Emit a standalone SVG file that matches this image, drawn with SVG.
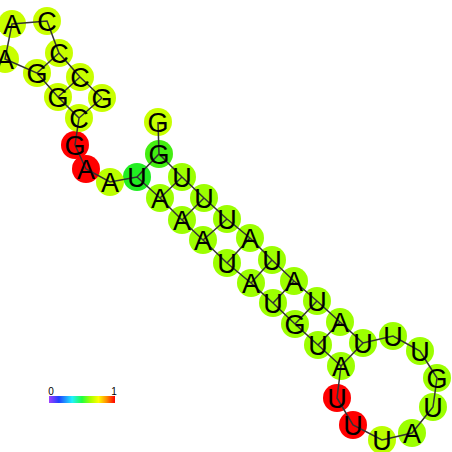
<svg xmlns="http://www.w3.org/2000/svg" width="452" height="452" viewBox="0 0 452 452">
<defs>
<style>
.n circle{stroke:none}
.n text{font-family:"Liberation Sans",Arial,sans-serif;font-size:27px;text-anchor:middle;fill:#000}
.y{fill:#c8ff00}
.s{fill:#9cff00}
.r{fill:#ff0000}
.g1{fill:#44ee11}
.g2{fill:#22ee22}
.y2{fill:#bbff00}
#links line,#links polyline{stroke:#333;stroke-width:1.5;fill:none}
.lbl{font-family:"Liberation Sans",Arial,sans-serif;font-size:10px;fill:#000;text-anchor:middle}
</style>
<linearGradient id="cb" x1="0" y1="0" x2="1" y2="0">
<stop offset="0" stop-color="#a040ff"/>
<stop offset="0.15" stop-color="#2040ff"/>
<stop offset="0.35" stop-color="#20f0ff"/>
<stop offset="0.5" stop-color="#20ff40"/>
<stop offset="0.62" stop-color="#a0ff00"/>
<stop offset="0.75" stop-color="#ffff00"/>
<stop offset="0.87" stop-color="#ff9000"/>
<stop offset="1" stop-color="#ff0000"/>
</linearGradient>
</defs>
<rect width="452" height="452" fill="#fff"/>
<g id="nodes">
<g id="n1" class="n"><circle class="y" cx="158" cy="122" r="14"/></g>
<g id="n2" class="n"><circle class="g1" cx="159" cy="154" r="14"/></g>
<g id="n3" class="n"><circle class="s" cx="182" cy="177" r="14"/></g>
<g id="n4" class="n"><circle class="s" cx="204" cy="198" r="14"/></g>
<g id="n5" class="n"><circle class="s" cx="227" cy="219" r="14"/></g>
<g id="n6" class="n"><circle class="s" cx="250" cy="238" r="14"/></g>
<g id="n7" class="n"><circle class="s" cx="272" cy="260" r="14"/></g>
<g id="n8" class="n"><circle class="s" cx="294" cy="281" r="14"/></g>
<g id="n9" class="n"><circle class="s" cx="317" cy="301" r="14"/></g>
<g id="n10" class="n"><circle class="s" cx="340" cy="322" r="14"/></g>
<g id="n11" class="n"><circle class="s" cx="363" cy="343" r="14"/></g>
<g id="n12" class="n"><circle class="s" cx="393" cy="336" r="14"/></g>
<g id="n13" class="n"><circle class="s" cx="420" cy="351" r="14"/></g>
<g id="n14" class="n"><circle class="s" cx="437" cy="378" r="14"/></g>
<g id="n15" class="n"><circle class="s" cx="433" cy="407" r="14"/></g>
<g id="n16" class="n"><circle class="s" cx="412" cy="433" r="14"/></g>
<g id="n17" class="n"><circle class="y2" cx="382" cy="440" r="14"/></g>
<g id="n18" class="n"><circle class="r" cx="353" cy="425" r="14"/></g>
<g id="n19" class="n"><circle class="r" cx="337" cy="398" r="14"/></g>
<g id="n20" class="n"><circle class="s" cx="341" cy="366" r="14"/></g>
<g id="n21" class="n"><circle class="s" cx="318" cy="345" r="14"/></g>
<g id="n22" class="n"><circle class="s" cx="295" cy="324" r="14"/></g>
<g id="n23" class="n"><circle class="s" cx="273" cy="303" r="14"/></g>
<g id="n24" class="n"><circle class="s" cx="251" cy="283" r="14"/></g>
<g id="n25" class="n"><circle class="s" cx="227" cy="263" r="14"/></g>
<g id="n26" class="n"><circle class="s" cx="203" cy="240" r="14"/></g>
<g id="n27" class="n"><circle class="s" cx="182" cy="220" r="14"/></g>
<g id="n28" class="n"><circle class="s" cx="160" cy="198" r="14"/></g>
<g id="n29" class="n"><circle class="g2" cx="137" cy="177" r="14"/></g>
<g id="n30" class="n"><circle class="y2" cx="110" cy="182" r="14"/></g>
<g id="n31" class="n"><circle class="r" cx="86" cy="169" r="14"/></g>
<g id="n32" class="n"><circle class="r" cx="75" cy="145" r="14"/></g>
<g id="n33" class="n"><circle class="y" cx="79" cy="118" r="14"/></g>
<g id="n34" class="n"><circle class="y" cx="58" cy="97" r="14"/></g>
<g id="n35" class="n"><circle class="y" cx="37" cy="73" r="14"/></g>
<g id="n36" class="n"><circle class="y" cx="5" cy="59" r="14"/></g>
<g id="n37" class="n"><circle class="y" cx="12" cy="24" r="14"/></g>
<g id="n38" class="n"><circle class="y" cx="47" cy="21" r="14"/></g>
<g id="n39" class="n"><circle class="y" cx="59" cy="53" r="14"/></g>
<g id="n40" class="n"><circle class="y" cx="80" cy="77" r="14"/></g>
<g id="n41" class="n"><circle class="y" cx="102" cy="98" r="14"/></g>
</g>
<g id="links">
<polyline points="158,122 159,154 182,177 204,198 227,219 250,238 272,260 294,281 317,301 340,322 363,343 393,336 420,351 437,378 433,407 412,433 382,440 353,425 337,398 341,366 318,345 295,324 273,303 251,283 227,263 203,240 182,220 160,198 137,177 110,182 86,169 75,145 79,118 58,97 37,73 5,59 12,24 47,21 59,53 80,77 102,98"/>
<line x1="159" y1="154" x2="137" y2="177"/>
<line x1="182" y1="177" x2="160" y2="198"/>
<line x1="204" y1="198" x2="182" y2="220"/>
<line x1="227" y1="219" x2="203" y2="240"/>
<line x1="250" y1="238" x2="227" y2="263"/>
<line x1="272" y1="260" x2="251" y2="283"/>
<line x1="294" y1="281" x2="273" y2="303"/>
<line x1="317" y1="301" x2="295" y2="324"/>
<line x1="340" y1="322" x2="318" y2="345"/>
<line x1="363" y1="343" x2="341" y2="366"/>
<line x1="79" y1="118" x2="102" y2="98"/>
<line x1="58" y1="97" x2="80" y2="77"/>
<line x1="37" y1="73" x2="59" y2="53"/>
</g>
<g id="labels" class="n">
<text x="158" y="131.5">G</text>
<text x="159" y="163.5">G</text>
<text x="182" y="186.5">U</text>
<text x="204" y="207.5">U</text>
<text x="227" y="228.5">U</text>
<text x="250" y="247.5">A</text>
<text x="272" y="269.5">U</text>
<text x="294" y="290.5">A</text>
<text x="317" y="310.5">U</text>
<text x="340" y="331.5">A</text>
<text x="363" y="352.5">U</text>
<text x="393" y="345.5">U</text>
<text x="420" y="360.5">U</text>
<text x="437" y="387.5">G</text>
<text x="433" y="416.5">U</text>
<text x="412" y="442.5">A</text>
<text x="382" y="449.5">U</text>
<text x="353" y="434.5">U</text>
<text x="337" y="407.5">U</text>
<text x="341" y="375.5">A</text>
<text x="318" y="354.5">U</text>
<text x="295" y="333.5">G</text>
<text x="273" y="312.5">U</text>
<text x="251" y="292.5">A</text>
<text x="227" y="272.5">U</text>
<text x="203" y="249.5">A</text>
<text x="182" y="229.5">A</text>
<text x="160" y="207.5">A</text>
<text x="137" y="186.5">U</text>
<text x="110" y="191.5">A</text>
<text x="86" y="178.5">A</text>
<text x="75" y="154.5">G</text>
<text x="79" y="127.5">C</text>
<text x="58" y="106.5">G</text>
<text x="37" y="82.5">G</text>
<text x="5" y="68.5">A</text>
<text x="12" y="33.5">A</text>
<text x="47" y="30.5">C</text>
<text x="59" y="62.5">C</text>
<text x="80" y="86.5">C</text>
<text x="102" y="107.5">G</text>
</g>
<g id="colorbar">
<rect x="49" y="396" width="66" height="7" fill="url(#cb)"/>
<text class="lbl" x="51" y="395">0</text>
<text class="lbl" x="114" y="395">1</text>
</g>
</svg>
